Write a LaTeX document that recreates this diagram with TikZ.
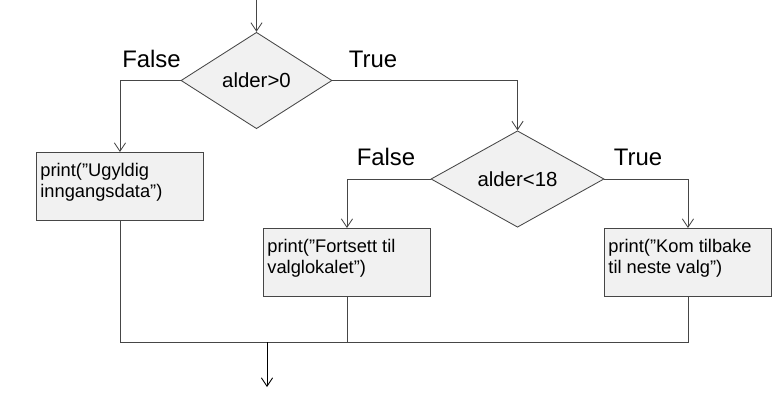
\documentclass[tikz,border=0pt]{standalone}
\usepackage{fontspec}
\setmainfont{Liberation Sans}
\usepackage{tikz}
\usetikzlibrary{shapes,arrows,arrows.meta,positioning}

\definecolor{linegray}{RGB}{70,70,70}
\definecolor{boxfill}{RGB}{241,241,241}
\newcommand{\steptext}[1]{\parbox[t][1.18cm][t]{3.975cm}{\raggedright #1}}

\begin{document}
\begin{tikzpicture}[x=0.025cm,y=-0.025cm,
  >={Straight Barb[length=6pt,width=8pt]},
  conn/.style={draw=linegray, line width=0.6pt},
  decision/.style={diamond, draw=linegray, line width=0.6pt, fill=boxfill, inner sep=0pt, minimum height=2.41cm, font=\fontsize{14.5}{16}\selectfont},
  stepbox/.style={rectangle, draw=linegray, line width=0.6pt, fill=boxfill, anchor=north west, inner xsep=0.1cm, inner ysep=0.26cm, font=\fontsize{13}{15}\selectfont},
  branch/.style={font=\fontsize{17}{19}\selectfont}]
\useasboundingbox (0,0) rectangle (780,402);
%Nodes
\node[decision, minimum width=3.775cm] (d1) at (256.5,80.5) {alder>0};
\node[decision, minimum width=4.325cm] (d2) at (517.5,179)  {alder<18};
\node[stepbox] (b1) at (36,152)  {\steptext{print(”Ugyldig\\inngangsdata”)}};
\node[stepbox] (b2) at (263,228) {\steptext{print(”Fortsett til\\valglokalet”)}};
\node[stepbox] (b3) at (604,228) {\steptext{print(”Kom tilbake\\til neste valg”)}};
\node[branch] (f1) at (151.5,59) {False};
\node[branch] (t1) at (373,59)   {True};
\node[branch] (f2) at (386,157)  {False};
\node[branch] (t2) at (638,157)  {True};
\coordinate (start) at (256.5,0);
\coordinate (join)  at (267,342);
\coordinate (end)   at (267,387);

\draw[conn,->] (start) -- (d1);
\draw[conn,->] (d1.west) -| (b1.north);
\draw[conn,->] (d1.east) -| (d2.north);
\draw[conn,->] (d2.west) -| (b2.north);
\draw[conn,->] (d2.east) -| (b3.north);
\draw[conn] (b1.south) |- (join);
\draw[conn] (b2.south) |- (join);
\draw[conn] (b3.south) |- (join);
\draw[->, draw=black, line width=0.6pt] (join) -- (end);
\end{tikzpicture}
\end{document}
